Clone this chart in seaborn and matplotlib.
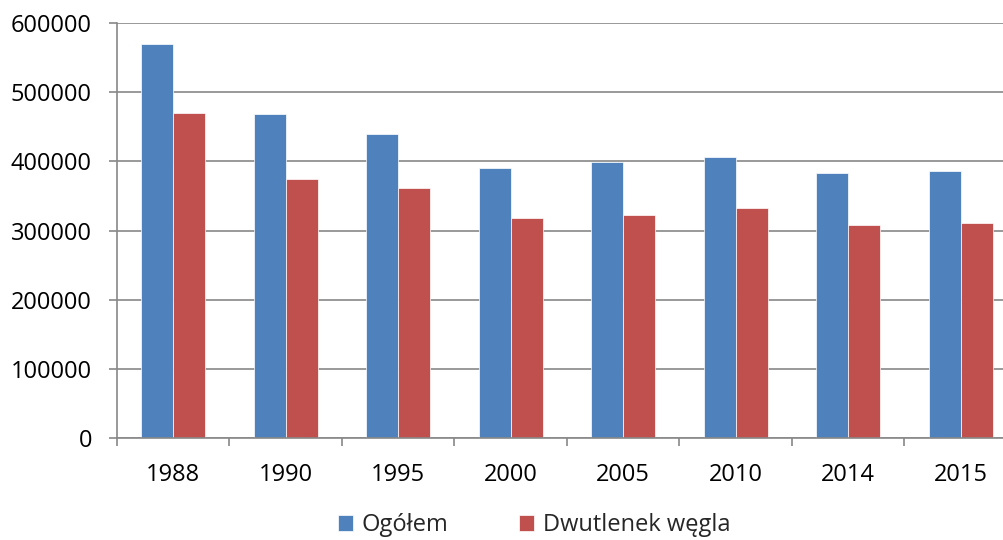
import matplotlib
matplotlib.use("Agg")
import matplotlib.pyplot as plt
import pandas as pd
import seaborn as sns
from matplotlib.ticker import FixedLocator, StrMethodFormatter

YEARS = ["1988", "1990", "1995", "2000", "2005", "2010", "2014", "2015"]
OGOLEM = [570000, 468000, 439000, 390600, 399500, 406600, 383000, 385900]
DWUTLENEK = [470000, 375000, 360800, 317400, 321700, 331900, 307300, 310600]
SERIES = ["Ogółem", "Dwutlenek węgla"]
COLORS = ["#4F81BD", "#C0504D"]
GRID = "#888888"

sns.set_theme(style="white")
plt.rcParams["font.family"] = ["Open Sans", "DejaVu Sans"]

df = pd.DataFrame(
    {
        "year": YEARS * 2,
        "value": OGOLEM + DWUTLENEK,
        "series": [SERIES[0]] * len(YEARS) + [SERIES[1]] * len(YEARS),
    }
)

fig = plt.figure(figsize=(10.04, 5.40), dpi=100)
W, H = 1004, 540
ax = fig.add_axes([117 / W, (H - 438) / H, (1017 - 117) / W, (438 - 23) / H])

sns.barplot(
    data=df, x="year", y="value", hue="series", palette=COLORS,
    saturation=1, width=0.57, errorbar=None, ax=ax,
    edgecolor="white", linewidth=0.5,
)

handles, labels = ax.get_legend_handles_labels()
ax.legend_.remove()

ax.set_ylim(0, 600000)
ax.set_xlim(-0.5, len(YEARS) - 0.5)
ax.set_yticks(range(0, 600001, 100000))
ax.yaxis.set_major_formatter(StrMethodFormatter("{x:.0f}"))
ax.set_axisbelow(True)
ax.yaxis.grid(True, color=GRID, linewidth=1.2)
ax.xaxis.grid(False)

ax.set_xlabel("")
ax.set_ylabel("")

for side in ["top", "right"]:
    ax.spines[side].set_visible(False)
for side in ["left", "bottom"]:
    ax.spines[side].set_color(GRID)
    ax.spines[side].set_linewidth(1.2)

ax.xaxis.set_minor_locator(FixedLocator([i - 0.5 for i in range(len(YEARS) + 1)]))
ax.tick_params(axis="x", which="major", length=0, pad=18, labelsize=17, colors="black")
ax.tick_params(axis="x", which="minor", bottom=True, length=6, width=1.2, color=GRID)
ax.tick_params(axis="y", which="major", left=True, length=6, width=1.2, color=GRID,
               pad=12, labelsize=17, labelcolor="black")

fig.legend(
    handles, labels, loc="center", bbox_to_anchor=(534 / W, 15 / H), ncol=2,
    frameon=False, fontsize=17, handlelength=0.65, handleheight=0.65,
    handletextpad=0.35, columnspacing=3.0,
)

fig.savefig("out.png", dpi=100)
plt.close(fig)
